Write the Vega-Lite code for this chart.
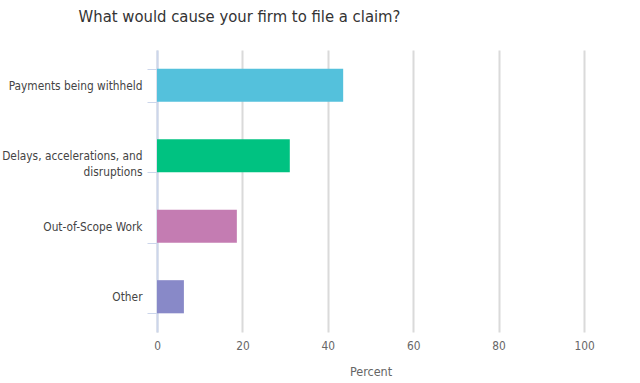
{
  "$schema": "https://vega.github.io/schema/vega-lite/v6.json",
  "width": 427,
  "height": 282,
  "autosize": "none",
  "padding": {"left": 157, "top": 50, "right": 56, "bottom": 51},
  "background": "white",
  "title": {
    "text": "What would cause your firm to file a claim?",
    "fontSize": 16.5,
    "font": "DejaVu Sans Condensed",
    "fontWeight": "normal",
    "color": "#333333",
    "anchor": "middle",
    "dx": -131,
    "offset": 20
  },
  "data": {
    "values": [
      {"reason": "Payments being withheld", "percent": 43.6},
      {"reason": "Delays, accelerations, and disruptions", "percent": 31.1},
      {"reason": "Out-of-Scope Work", "percent": 18.7},
      {"reason": "Other", "percent": 6.3}
    ]
  },
  "mark": {"type": "bar"},
  "encoding": {
    "y": {
      "field": "reason",
      "type": "nominal",
      "sort": null,
      "scale": {"paddingInner": 0.53, "paddingOuter": 0.265},
      "axis": {
        "title": null,
        "tickBand": "extent",
        "tickSize": 10,
        "tickColor": "#ccd6eb",
        "domainColor": "#ccd6eb",
        "domainWidth": 2,
        "labelFont": "DejaVu Sans Condensed",
        "labelFontSize": 11.8,
        "labelColor": "#444444",
        "labelPadding": 5,
        "labelLimit": 160,
        "labelLineHeight": 16,
        "labelExpr": "datum.value == 'Delays, accelerations, and disruptions' ? ['Delays, accelerations, and', 'disruptions'] : datum.value"
      }
    },
    "x": {
      "field": "percent",
      "type": "quantitative",
      "scale": {"domain": [0, 100], "nice": false},
      "axis": {
        "title": "Percent",
        "values": [0, 20, 40, 60, 80, 100],
        "domain": false,
        "ticks": false,
        "grid": true,
        "gridColor": "#dadada",
        "gridWidth": 2,
        "labelFlush": false,
        "labelFont": "DejaVu Sans Condensed",
        "labelFontSize": 11.8,
        "labelColor": "#666666",
        "labelPadding": 8,
        "titleFont": "DejaVu Sans Condensed",
        "titleFontSize": 12.5,
        "titleFontWeight": "normal",
        "titleColor": "#666666",
        "titlePadding": 14
      }
    },
    "color": {
      "field": "reason",
      "type": "nominal",
      "sort": null,
      "legend": null,
      "scale": {"range": ["#54c1dc", "#00c281", "#c47cb2", "#8889c8"]}
    }
  },
  "config": {"view": {"stroke": null}}
}
